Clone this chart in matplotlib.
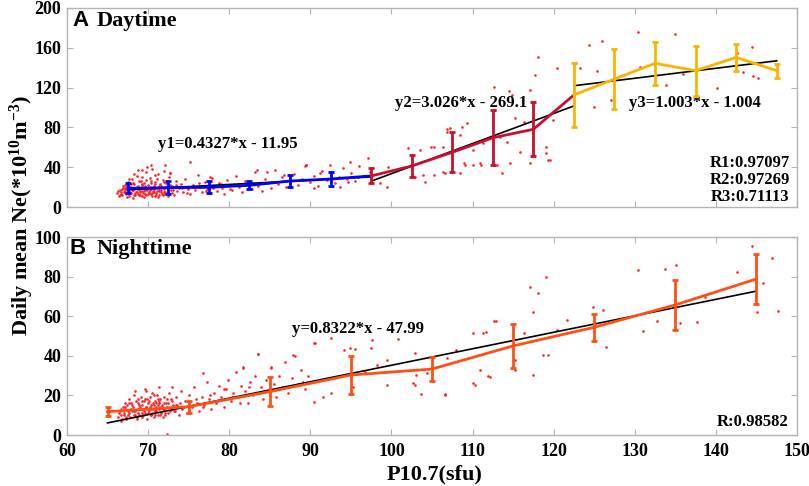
import numpy as np
import matplotlib
matplotlib.use('Agg')
import matplotlib.pyplot as plt

plt.rcParams['font.family'] = 'Liberation Serif'
plt.rcParams['font.weight'] = 'bold'
plt.rcParams['mathtext.fontset'] = 'custom'
plt.rcParams['mathtext.rm'] = 'Liberation Serif:bold'
plt.rcParams['mathtext.it'] = 'Liberation Serif:bold'
plt.rcParams['mathtext.bf'] = 'Liberation Serif:bold'

# ---- daytime binned means ----
day_blue_x = [67.5, 72.5, 77.5, 82.5, 87.5, 92.5]
day_blue_y = [18.8, 19.4, 19.8, 21.8, 26.1, 28.1]
day_blue_e = [5.0, 6.7, 6.0, 4.0, 6.0, 7.0]
day_red_x = [97.5, 102.5, 107.5, 112.5, 117.5]
day_red_y = [31.2, 41.2, 55.0, 69.6, 78.1]
day_red_e = [7.5, 11.3, 20.0, 27.5, 27.0]
day_yel_x = [122.5, 127.5, 132.5, 137.5, 142.5, 147.5]
day_yel_y = [112.6, 128.6, 144.4, 137.0, 150.4, 137.0]
day_yel_e = [31.7, 29.7, 21.7, 25.0, 13.3, 7.0]

# fits (slope, intercept, x range)
fit1 = (0.4327, -11.95, [67.5, 97.5])
fit2 = (3.026, -269.1, [97.5, 122.5])
fit3 = (1.003, -1.004, [122.5, 147.5])

# ---- nighttime binned means ----
night_x = [65, 75, 85, 95, 105, 115, 125, 135, 145]
night_y = [11.8, 14.3, 21.9, 30.3, 33.3, 45.0, 54.4, 65.7, 78.8]
night_e = [2.4, 3.1, 7.2, 9.7, 6.0, 11.2, 6.7, 12.8, 12.6]
fitn = (0.8322, -47.99, [65, 145])

# ---- daily scatter, daytime ----
day_sx = [66.2, 66.5, 66.8, 66.9, 67.0, 67.1, 67.3, 67.4, 67.5, 67.6, 67.7, 67.8, 67.9, 68.0, 68.1, 68.2,
          68.3, 68.4, 68.5, 68.6, 68.7, 68.8, 68.9, 69.0, 69.1, 69.2, 69.3, 69.4, 69.5, 69.6, 69.7, 69.8,
          69.9, 70.0, 70.1, 70.2, 70.3, 70.4, 70.5, 70.6, 70.7, 70.8, 70.9, 71.0, 71.1, 71.2, 71.3, 71.4,
          71.5, 71.6, 71.7, 71.8, 71.9, 72.0, 72.2, 72.4, 72.6, 72.8, 73.0, 73.2, 73.4, 73.6, 73.8, 74.0,
          74.3, 74.6, 74.9, 75.2, 75.5, 75.8, 76.1, 76.4, 76.7, 77.0, 77.3, 77.6, 77.9, 78.2, 78.5, 78.8,
          79.1, 79.4, 79.7, 80.0, 80.4, 80.8, 81.2, 81.6, 82.0, 82.4, 82.8, 83.2, 83.6, 84.0, 84.4, 84.8,
          85.2, 85.6, 86.0, 86.5, 87.0, 87.5, 88.0, 88.5, 89.0, 89.5, 90.0, 90.5, 91.0, 91.5, 92.0, 92.5,
          93.0, 93.5, 94.0, 94.5, 95.0, 95.5, 96.0, 96.5,
          66.4, 66.7, 67.2, 67.4, 67.9, 68.1, 68.4, 68.6, 68.9, 69.0, 69.3, 69.5, 69.6, 69.8, 70.0, 70.2,
          70.4, 70.5, 70.7, 70.9, 71.1, 71.2, 71.4, 71.6, 71.8, 72.1, 72.3, 72.5, 72.7, 72.9, 69.2, 68.3,
          70.8, 71.9, 69.9, 72.1, 75.2, 72.7, 68.8, 67.7, 70.4, 69.2, 72.7, 83.4, 84.6, 89.5, 86.7, 77.6,
          66.3, 66.6, 66.9, 67.2, 67.5, 67.8, 68.1, 68.4, 68.7, 69.0, 69.3, 69.6, 69.9, 70.2, 70.5, 70.8,
          71.1, 71.4, 71.7, 72.0, 66.5, 66.8, 67.1, 67.4, 67.7, 68.0, 68.3, 68.6, 68.9, 69.2, 69.5, 69.8,
          70.1, 70.4, 70.7, 71.0, 71.3, 71.6, 71.9, 72.2, 73.1, 73.5, 74.2, 74.8, 75.6, 76.3, 77.1, 78.0,
          79.0, 80.1,
          89.3, 92.4, 94.9, 97.1, 99.6, 102.1, 102.9, 98.6, 99.4, 90.4, 93.7, 91.2, 95.9, 94.7, 97.4,
          103.5, 104.1, 105.2, 106.4, 106.8, 107.2, 108.5, 108.5, 109.1, 109.3, 110.1, 110.9, 111.3, 112.8,
          113.0, 113.4, 114.2, 114.6, 114.9, 115.2, 116.3, 117.1, 117.1, 117.7, 119.1, 119.3, 119.9,
          104.9, 106.8, 106.4, 108.7, 110.1, 111.1, 112.6, 113.6, 115.9, 119.1, 119.5, 106.6, 108.9,
          103.9, 105.2, 112.7, 114.5, 118.1, 120.4,
          122.8, 123.2, 124.3, 125.0, 125.3, 126.0, 127.1, 130.4, 130.7, 133.9, 135.0, 136.0, 140.1,
          142.6, 143.3, 144.4, 144.6, 145.2]
day_sy = [14, 17, 12, 19, 15, 22, 13, 18, 25, 11, 16, 20, 14, 28, 17, 12,
          23, 19, 15, 31, 13, 21, 18, 16, 26, 11, 20, 14, 24, 17, 35, 12,
          19, 22, 15, 29, 13, 18, 38, 16, 21, 11, 25, 14, 19, 33, 17, 12,
          23, 15, 20, 27, 13, 18, 24, 14, 30, 17, 21, 12, 26, 16, 19, 23,
          15, 28, 18, 13, 22, 17, 32, 20, 15, 25, 18, 14, 29, 21, 16, 24,
          19, 13, 27, 22, 17, 31, 20, 15, 26, 22, 18, 35, 21, 16, 28, 24,
          19, 37, 23, 30, 20, 26, 33, 22, 28, 42, 25, 31, 21, 36, 27, 33,
          24, 30, 39, 28, 34, 26, 41, 31,
          11, 15, 19, 10, 23, 9, 14, 20, 26, 12, 16, 10, 21, 27, 13, 17,
          24, 11, 15, 19, 28, 10, 16, 21, 12, 15, 19, 11, 22, 14, 30, 33,
          32, 36, 40, 42, 45, 34, 37, 28, 42.2, 37.2, 33.9, 37.2, 35.5, 42.2, 32.2, 30.5,
          16, 13, 21, 17, 14, 19, 24, 12, 18, 15, 22, 13, 17, 20, 14, 23,
          16, 19, 13, 25, 12, 18, 15, 21, 13, 17, 19, 15, 12, 23, 16, 19,
          14, 26, 18, 12, 21, 17, 15, 20, 17, 22, 19, 14, 20, 24, 16, 19,
          23, 18,
          41.5, 42.2, 45.5, 48.9, 40.5, 59.0, 30.5, 23.8, 20.4, 18.8, 20.4, 33.9, 30.5, 25.4, 35.5,
          57.3, 25.4, 60.6, 35.5, 75.7, 79.1, 33.9, 72.4, 42.2, 84.1, 57.3, 43.9, 64.0, 97.5,
          42.2, 70.7, 65.6, 43.9, 112.6, 89.8, 85.7, 117.6, 43.9, 132.7, 60.6, 47.2, 87.4,
          60.0, 78.4, 60.6, 80.7, 42.2, 42.2, 42.2, 33.9, 55.6, 54.0, 47.2, 33.9, 43.9,
          32.2, 32.2, 120.9, 116.6, 150.4, 140.0,
          144.4, 139.4, 162.8, 100.8, 137.0, 167.1, 107.5, 175.6, 141.0, 122.6, 173.9, 133.7, 119.6,
          154.5, 136.0, 161.0, 131.7, 129.3]

# ---- daily scatter, nighttime ----
night_sx = [66.3, 66.5, 66.7, 66.9, 67.0, 67.2, 67.3, 67.5, 67.6, 67.8, 67.9, 68.0, 68.2, 68.3, 68.4, 68.6,
            68.7, 68.8, 69.0, 69.1, 69.2, 69.4, 69.5, 69.6, 69.7, 69.8, 69.9, 70.0, 70.1, 70.2, 70.3, 70.4,
            70.5, 70.6, 70.7, 70.8, 70.9, 71.0, 71.1, 71.2, 71.3, 71.4, 71.5, 71.6, 71.7, 71.8, 71.9, 72.0,
            72.2, 72.4, 72.6, 72.8, 73.0, 73.2, 73.4, 73.6, 73.8, 74.0, 74.2, 74.5, 74.8, 75.1, 75.4, 75.7,
            76.0, 76.3, 76.6, 76.9, 77.2, 77.5, 77.8, 78.1, 78.4, 78.7, 79.0, 79.3, 79.6, 79.9, 80.2, 80.5,
            80.8, 81.1, 81.4, 81.7, 82.0, 82.3, 82.6, 82.9, 83.2, 83.6, 83.9, 84.2, 84.5, 84.8, 85.2, 85.5,
            85.8, 86.1, 86.5, 86.9, 87.3, 87.7, 88.1, 88.5, 88.9, 89.3, 89.7,
            66.6, 67.1, 67.4, 67.7, 68.1, 68.5, 68.9, 69.3, 69.5, 69.9, 70.2, 70.6, 70.9, 71.2, 71.5, 71.8,
            72.1, 72.3, 72.7, 73.1, 70.0, 70.4, 69.2, 68.8, 71.0, 70.7, 69.6, 71.4, 72.9, 68.4,
            66.4, 66.8, 67.1, 67.5, 67.9, 68.2, 68.6, 68.9, 69.3, 69.6, 70.0, 70.3, 70.7, 71.0, 71.4, 71.7,
            72.1, 72.5, 72.9, 73.4, 66.6, 67.0, 67.3, 67.7, 68.0, 68.4, 68.7, 69.1, 69.4, 69.8, 70.1, 70.5,
            70.8, 71.2, 71.5, 71.9, 72.3, 72.8, 73.3, 73.9, 74.4, 75.0, 75.9, 76.8, 77.6, 78.5, 79.4, 80.3,
            81.3, 82.5,
            83.6, 87.9, 85.2, 81.7, 76.8, 90.4, 72.3,
            90.6, 92.6, 94.2, 94.9, 95.5, 97.5, 97.6, 100.8, 90.4, 91.6, 92.6, 95.3, 99.4, 102.7, 106.6,
            103.0, 104.4, 110.1, 110.9, 112.1, 106.8, 108.0, 102.9, 98.2, 99.4, 96.7, 89.1,
            110.1, 112.6, 111.7, 115.2, 115.2, 117.5, 118.7, 119.3, 111.9, 110.3, 106.6, 103.6, 102.9,
            116.3, 120.4, 121.6, 119.0, 118.1, 117.1, 117.5, 112.9, 111.3,
            124.9, 126.5, 126.1, 131.0, 132.7, 135.6, 137.7, 138.7, 130.4, 133.7, 135.1, 142.6,
            144.4, 146.9, 145.8, 147.7, 145.1]
night_sy = [9, 12, 7, 14, 10, 16, 8, 12, 18, 9, 13, 15, 10, 20, 12, 8,
            16, 11, 14, 19, 9, 13, 17, 11, 22, 14, 8, 16, 12, 19, 10, 15,
            21, 13, 9, 17, 12, 14, 20, 10, 16, 13, 18, 11, 15, 9, 19, 13,
            16, 11, 21, 14, 17, 12, 19, 15, 10, 22, 13, 17, 11, 20, 14, 24,
            16, 12, 19, 15, 27, 18, 13, 21, 16, 25, 19, 14, 23, 28, 17, 21,
            32, 19, 25, 34, 22, 16, 27, 20, 30, 41, 24, 18, 28, 22, 34, 26,
            19, 30, 24, 37, 21, 29, 40, 26, 33, 23, 30,
            10, 13, 15, 11, 14, 17, 10, 15, 12, 18, 14, 16, 10, 18, 14, 13,
            10, 18, 12, 15, 11, 13, 17, 13, 16, 20, 23, 24, 24, 22,
            11, 8, 14, 10, 16, 12, 9, 15, 11, 18, 13, 10, 15, 12, 17, 14,
            11, 16, 13, 15, 13, 11, 9, 16, 12, 10, 18, 13, 10, 14, 17, 11,
            13, 15, 10, 16, 14, 18, 12, 16, 14, 12, 18, 14, 20, 17, 23, 19,
            16, 24,
            40.9, 40.4, 34.5, 34.5, 31.2, 46.3, 0.5,
            46.3, 48.8, 42.9, 43.8, 43.3, 43.8, 48.0, 48.3, 16.8, 19.3, 21.0, 24.4, 25.3, 26.1, 20.7,
            30.3, 31.2, 26.1, 32.8, 29.4, 38.7, 42.9, 41.3, 35.4, 37.9, 32.0, 26.9,
            51.4, 57.6, 52.2, 37.9, 32.8, 30.3, 40.4, 40.4, 29.8, 25.3, 20.2, 20.6, 25.3,
            51.4, 53.0, 58.1, 79.6, 71.9, 74.6, 62.3, 57.6, 51.4,
            64.8, 44.6, 63.1, 52.5, 57.6, 56.4, 56.9, 69.8, 83.3, 83.7, 85.9, 82.2,
            95.5, 89.6, 76.9, 62.8, 62.3]

xticks = [60, 70, 80, 90, 100, 110, 120, 130, 140, 150]
day_yticks = [0, 40, 80, 120, 160, 200]
night_yticks = [0, 20, 40, 60, 80, 100]

c_blue = '#0000ff'
c_red = '#c8102e'
c_yel = '#f8b400'
c_org = '#ff4f14'
c_dot = '#ff2020'

fig = plt.figure(figsize=(8.09, 4.86), dpi=100)
ax1 = fig.add_axes([67/809, 1-207/486, 730/809, 199/486])
ax2 = fig.add_axes([67/809, 1-435/486, 730/809, 198/486])

for ax in (ax1, ax2):
    for s in ax.spines.values():
        s.set_color('#b4b4b4')
        s.set_linewidth(1.0)
    ax.tick_params(direction='in', top=True, right=True, color='#b4b4b4',
                   length=4, labelsize=13)
    ax.tick_params(axis='x', pad=5.5)
    ax.tick_params(axis='y', pad=4)
    ax.set_xlim(60, 150)
    ax.set_xticks(xticks)

# ---- panel A ----
ax1.scatter(day_sx, day_sy, s=3.5, color=c_dot, linewidths=0, zorder=1)
for (k, b, xr) in (fit1, fit2, fit3):
    xr = np.array(xr)
    ax1.plot(xr, k*xr + b, color='k', lw=1.2, zorder=2)
ax1.plot(day_blue_x + day_red_x[:1], day_blue_y + day_red_y[:1], color=c_blue, lw=2, zorder=3)
ax1.errorbar(day_blue_x, day_blue_y, yerr=day_blue_e, fmt='none', ecolor=c_blue,
             elinewidth=2, capsize=2.5, capthick=2, zorder=3)
ax1.plot(day_red_x + day_yel_x[:1], day_red_y + day_yel_y[:1], color=c_red, lw=2, zorder=4)
ax1.errorbar(day_red_x, day_red_y, yerr=day_red_e, fmt='none', ecolor=c_red,
             elinewidth=2, capsize=2.5, capthick=2, zorder=4)
ax1.errorbar(day_yel_x, day_yel_y, yerr=day_yel_e, color=c_yel, lw=2,
             elinewidth=2, capsize=2.5, capthick=2, zorder=5)
ax1.set_ylim(0, 200)
ax1.set_yticks(day_yticks)
ax1.set_xticklabels([])

ax1.text(0.007, 0.935, 'A', transform=ax1.transAxes, family='Liberation Sans',
         fontsize=16, fontweight='bold', va='center')
ax1.text(0.04, 0.935, 'Daytime', transform=ax1.transAxes, fontsize=16, va='center')
ax1.text(71.2, 63.3, 'y1=0.4327*x - 11.95', fontsize=12, va='center')
ax1.text(100.5, 104.5, 'y2=3.026*x - 269.1', fontsize=12, va='center')
ax1.text(129.3, 104.5, 'y3=1.003*x - 1.004', fontsize=12, va='center')
ax1.text(149.1, 44.2, 'R1:0.97097', fontsize=12, va='center', ha='right')
ax1.text(149.1, 27.1, 'R2:0.97269', fontsize=12, va='center', ha='right')
ax1.text(149.1, 10.0, 'R3:0.71113', fontsize=12, va='center', ha='right')

# ---- panel B ----
ax2.scatter(night_sx, night_sy, s=3.5, color=c_dot, linewidths=0, zorder=1)
k, b, xr = fitn
xr = np.array(xr)
ax2.plot(xr, k*xr + b, color='k', lw=1.2, zorder=2)
ax2.errorbar(night_x, night_y, yerr=night_e, color=c_org, lw=2,
             elinewidth=2, capsize=2.5, capthick=2, zorder=3)
ax2.set_ylim(0, 100)
ax2.set_yticks(night_yticks)

ax2.text(0.003, 0.94, 'B', transform=ax2.transAxes, family='Liberation Sans',
         fontsize=16, fontweight='bold', va='center')
ax2.text(0.041, 0.94, 'Nighttime', transform=ax2.transAxes, fontsize=16, va='center')
ax2.text(87.7, 53.5, 'y=0.8322*x - 47.99', fontsize=12, va='center')
ax2.text(148.9, 6.6, 'R:0.98582', fontsize=12, va='center', ha='right')

fig.text(435/809, 1-479/486, 'P10.7(sfu)', fontsize=16, ha='center', va='baseline')
fig.text(22/809, 1-215/486, r'Daily mean Ne(*10$^{10}$m$^{-3}$)', fontsize=16,
         rotation=90, ha='center', va='center')

fig.savefig('out.png', dpi=100)
